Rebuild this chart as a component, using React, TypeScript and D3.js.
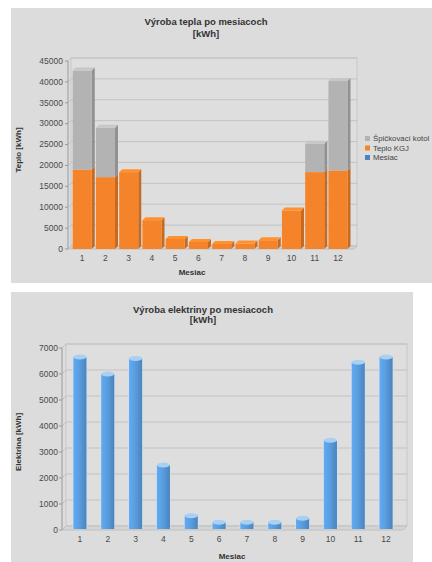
import React from "react";
import * as d3 from "d3";

// Monthly heat production [kWh]
const months = ["1", "2", "3", "4", "5", "6", "7", "8", "9", "10", "11", "12"];
const heatCHP = [19000, 17200, 18400, 6900, 2400, 1700, 1200, 1300, 2100, 9200, 18400, 18800];
const heatPeakBoiler = [23700, 11800, 0, 0, 0, 0, 0, 0, 0, 0, 6800, 21400];
const monthIndex = [1, 2, 3, 4, 5, 6, 7, 8, 9, 10, 11, 12];
const heatTicks = [0, 5000, 10000, 15000, 20000, 25000, 30000, 35000, 40000, 45000];

// Monthly electricity production [kWh]
const electricity = [6650, 6000, 6600, 2500, 550, 300, 300, 300, 450, 3450, 6450, 6650];
const elecTicks = [0, 1000, 2000, 3000, 4000, 5000, 6000, 7000];

const FONT = "'Liberation Sans', Arial, sans-serif";
const PANEL = "#dcdcdc";
const GRID = "#c2c2c2";
const ORANGE = "#f5832a";
const GREY = "#b3b3b3";
const BLUE = "#5a9ee0";
const LEGEND_BLUE = "#4f81bd";

function HeatChart() {
  const y = d3.scaleLinear().domain([0, 45000]).range([249, 61]);
  const x = d3.scaleBand<string>().domain(months).range([70.6, 349.6]).paddingInner(0.18).paddingOuter(0.09);
  const dx = 3;
  const dy = -3;
  const left = 68;
  const right = 357;

  const stackData = months.map((m, i) => ({
    month: m,
    mesiac: monthIndex[i] * 0,
    kgj: heatCHP[i],
    kotol: heatPeakBoiler[i],
  }));
  const stack = d3.stack<any>().keys(["mesiac", "kgj", "kotol"])(stackData);
  const colors: Record<string, string> = { mesiac: LEGEND_BLUE, kgj: ORANGE, kotol: GREY };

  const legend = [
    { label: "Špičkovací kotol", color: GREY },
    { label: "Teplo KGJ", color: ORANGE },
    { label: "Mesiac", color: LEGEND_BLUE },
  ];

  return (
    <g>
      <rect x={11} y={8} width={421} height={275} fill={PANEL} />
      <text x={206} y={25} textAnchor="middle" fontFamily={FONT} fontSize={9.5} fontWeight="bold" fill="#333">
        Výroba tepla po mesiacoch
      </text>
      <text x={206} y={37} textAnchor="middle" fontFamily={FONT} fontSize={9.5} fontWeight="bold" fill="#333">
        [kWh]
      </text>

      {/* back wall and grid */}
      <rect x={left + dx} y={y(45000) + dy} width={right - left - dx} height={y(0) - y(45000)} fill="#dedede" stroke="#c8c8c8" />
      {heatTicks.map((t) => (
        <g key={t}>
          <line x1={left} x2={left + dx} y1={y(t)} y2={y(t) + dy} stroke={GRID} />
          <line x1={left + dx} x2={right} y1={y(t) + dy} y2={y(t) + dy} stroke={GRID} />
        </g>
      ))}
      {/* floor */}
      <polygon
        points={`${left},${y(0)} ${right - dx},${y(0)} ${right},${y(0) + dy} ${left + dx},${y(0) + dy}`}
        fill="#d2d2d2"
        stroke="#c0c0c0"
      />
      <line x1={left} x2={left} y1={y(0)} y2={y(45000)} stroke="#9a9a9a" />
      {heatTicks.map((t) => (
        <g key={"t" + t}>
          <line x1={left - 3} x2={left} y1={y(t)} y2={y(t)} stroke="#9a9a9a" />
          <text x={63} y={y(t)} dy="0.33em" textAnchor="end" fontFamily={FONT} fontSize={8.5} fill="#4a4a4a">
            {t}
          </text>
        </g>
      ))}

      {/* bars */}
      {stack.map((layer) =>
        layer.map((seg, i) => {
          const key = layer.key;
          const c = colors[key];
          const x0 = x(months[i])!;
          const w = x.bandwidth();
          const yTop = y(seg[1]);
          const yBot = y(seg[0]);
          if (seg[1] - seg[0] <= 0) return null;
          const isTop = key === "kotol" || (key === "kgj" && heatPeakBoiler[i] === 0);
          const dark = d3.color(c)!.darker(0.6).toString();
          const light = d3.color(c)!.brighter(0.3).toString();
          return (
            <g key={key + i}>
              <polygon
                points={`${x0 + w},${yTop} ${x0 + w + dx},${yTop + dy} ${x0 + w + dx},${yBot + dy} ${x0 + w},${yBot}`}
                fill={dark}
              />
              <rect x={x0} y={yTop} width={w} height={yBot - yTop} fill={c} />
              {isTop && (
                <polygon
                  points={`${x0},${yTop} ${x0 + w},${yTop} ${x0 + w + dx},${yTop + dy} ${x0 + dx},${yTop + dy}`}
                  fill={light}
                />
              )}
            </g>
          );
        })
      )}

      {months.map((m) => (
        <text key={m} x={x(m)! + x.bandwidth() / 2} y={261} textAnchor="middle" fontFamily={FONT} fontSize={8.5} fill="#4a4a4a">
          {m}
        </text>
      ))}
      <text x={192} y={275} textAnchor="middle" fontFamily={FONT} fontSize={8} fontWeight="bold" fill="#333">
        Mesiac
      </text>
      <text
        transform={`translate(21,150) rotate(-90)`}
        textAnchor="middle"
        fontFamily={FONT}
        fontSize={8}
        fontWeight="bold"
        fill="#333"
      >
        Teplo [kWh]
      </text>

      {legend.map((l, i) => (
        <g key={l.label}>
          <rect x={365} y={136 + i * 9.5} width={5} height={5} fill={l.color} />
          <text x={373} y={138.5 + i * 9.5} dy="0.35em" fontFamily={FONT} fontSize={7.8} fill="#444">
            {l.label}
          </text>
        </g>
      ))}
    </g>
  );
}

function ElectricityChart() {
  const y = d3.scaleLinear().domain([0, 7000]).range([530, 348]);
  const x = d3.scaleBand<string>().domain(months).range([66, 400]).paddingInner(0.53).paddingOuter(0.265);
  const left = 62;
  const right = 407;
  const dx = 4;
  const dy = -4;
  const light = "#a9d0f3";
  const dark = d3.color(BLUE)!.darker(0.5).toString();

  return (
    <g>
      <defs>
        <linearGradient id="cyl" x1="0" x2="1" y1="0" y2="0">
          <stop offset="0" stopColor={d3.color(BLUE)!.brighter(0.2).toString()} />
          <stop offset="0.45" stopColor={BLUE} />
          <stop offset="1" stopColor={dark} />
        </linearGradient>
      </defs>
      <rect x={11} y={292} width={402} height={270} fill={PANEL} />
      <text x={203} y={313} textAnchor="middle" fontFamily={FONT} fontSize={9.5} fontWeight="bold" fill="#333">
        Výroba elektriny po mesiacoch
      </text>
      <text x={203} y={323} textAnchor="middle" fontFamily={FONT} fontSize={9.5} fontWeight="bold" fill="#333">
        [kWh]
      </text>

      <rect x={left + dx} y={y(7000) + dy} width={right - left - dx} height={y(0) - y(7000)} fill="#dedede" stroke="#c8c8c8" />
      {elecTicks.map((t) => (
        <g key={t}>
          <line x1={left} x2={left + dx} y1={y(t)} y2={y(t) + dy} stroke={GRID} />
          <line x1={left + dx} x2={right} y1={y(t) + dy} y2={y(t) + dy} stroke={GRID} />
        </g>
      ))}
      <polygon
        points={`${left},${y(0)} ${right - dx},${y(0)} ${right},${y(0) + dy} ${left + dx},${y(0) + dy}`}
        fill="#d4d4d4"
        stroke="#c0c0c0"
      />
      <line x1={left} x2={left} y1={y(0)} y2={y(7000)} stroke="#9a9a9a" />
      {elecTicks.map((t) => (
        <g key={"t" + t}>
          <line x1={left - 3} x2={left} y1={y(t)} y2={y(t)} stroke="#9a9a9a" />
          <text x={58} y={y(t)} dy="0.33em" textAnchor="end" fontFamily={FONT} fontSize={8.5} fill="#4a4a4a">
            {t}
          </text>
        </g>
      ))}

      {electricity.map((v, i) => {
        const x0 = x(months[i])!;
        const w = x.bandwidth();
        const yTop = y(v);
        const yBot = y(0) - 1;
        return (
          <g key={i}>
            <rect x={x0 - 1} y={yTop} width={w + 2} height={yBot - yTop} fill="#cfe3f6" opacity={0.6} />
            <rect x={x0} y={yTop} width={w} height={yBot - yTop} fill="url(#cyl)" />
            <ellipse cx={x0 + w / 2} cy={yTop} rx={w / 2} ry={2.5} fill={light} />
          </g>
        );
      })}

      {months.map((m) => (
        <text key={m} x={x(m)! + x.bandwidth() / 2} y={542} textAnchor="middle" fontFamily={FONT} fontSize={8.5} fill="#4a4a4a">
          {m}
        </text>
      ))}
      <text x={232} y={559} textAnchor="middle" fontFamily={FONT} fontSize={8} fontWeight="bold" fill="#333">
        Mesiac
      </text>
      <text
        transform={`translate(21,442) rotate(-90)`}
        textAnchor="middle"
        fontFamily={FONT}
        fontSize={8}
        fontWeight="bold"
        fill="#333"
      >
        Elektrina [kWh]
      </text>
    </g>
  );
}

export default function App() {
  return (
    <svg
      width={432}
      height={562}
      style={{ position: "absolute", left: 0, top: 0, background: "#fff" }}
    >
      <HeatChart />
      <ElectricityChart />
    </svg>
  );
}
